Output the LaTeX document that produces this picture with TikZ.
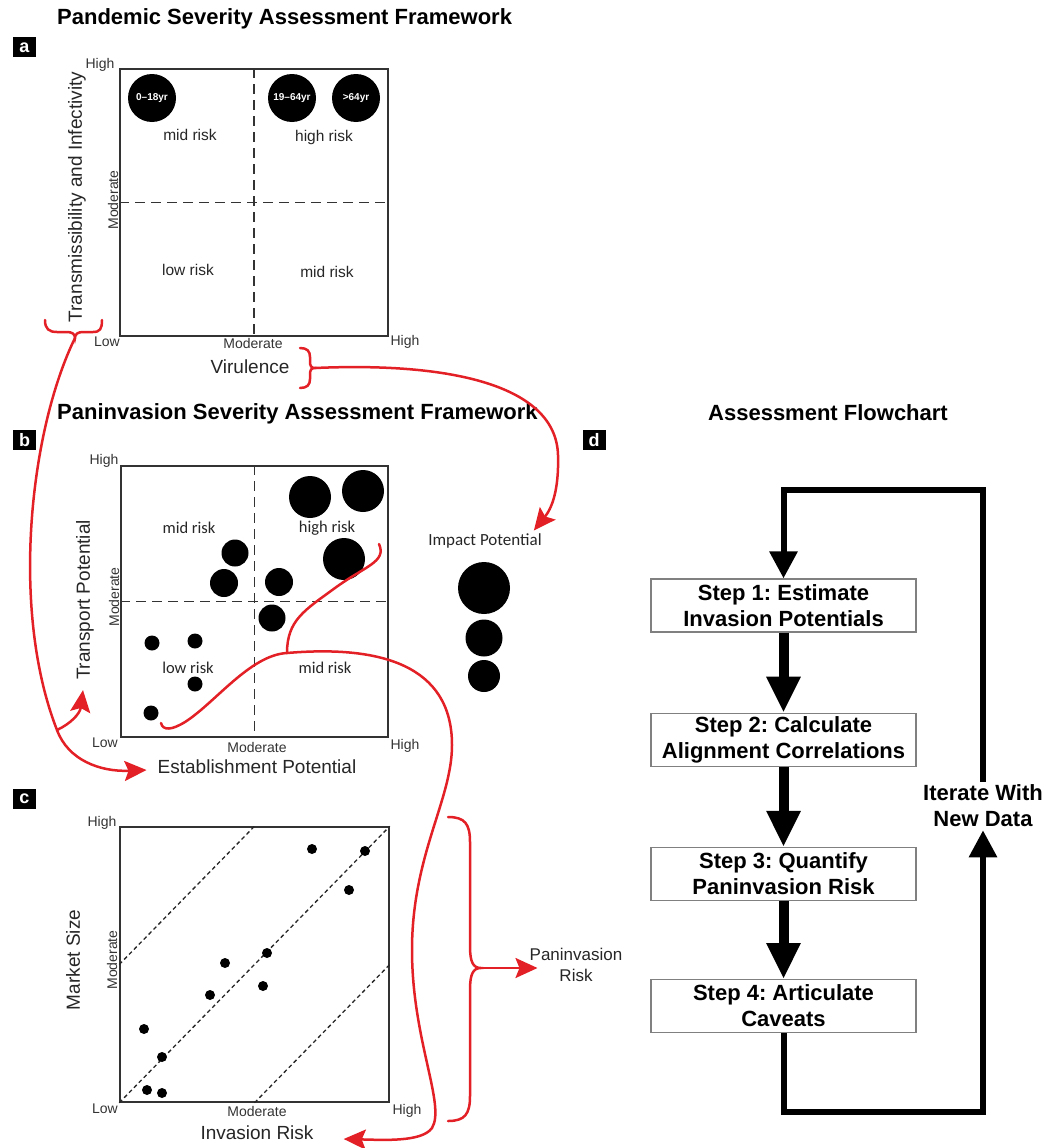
\documentclass[tikz,border=0pt]{standalone}
\usepackage{fontspec}
\setmainfont{Liberation Sans}
\newfontfamily\calfont{Carlito}
\usetikzlibrary{arrows.meta,positioning}
\definecolor{penred}{RGB}{226,32,38}
\frenchspacing
\tikzset{
  ttl/.style={font=\bfseries\fontsize{22}{26}\selectfont, anchor=west, inner sep=0pt},
  panellbl/.style={fill=black, text=white, font=\bfseries\fontsize{18}{18}\selectfont, minimum width=23pt, minimum height=20pt, inner sep=0pt},
  tick/.style={font=\fontsize{14}{14}\selectfont, text=black!80, inner sep=0pt},
  axlbl/.style={font=\fontsize{19}{19}\selectfont, text=black!85, inner sep=0pt},
  risk/.style={font=\fontsize{15.5}{15.5}\selectfont, text=black!85},
  riskb/.style={font=\calfont\fontsize{16.5}{16.5}\selectfont, text=black!85},
  plotbox/.style={draw=black!80, line width=1.5pt, inner sep=0pt},
  quad/.style={draw=black!80, line width=1.6pt, dash pattern=on 10pt off 6pt},
  diag/.style={draw=black!85, line width=1.3pt, dash pattern=on 4pt off 3pt},
  blob/.style={circle, fill=black, inner sep=0pt},
  agelbl/.style={blob, text=white, font=\bfseries\fontsize{10}{10}\selectfont, minimum size=48pt},
  redline/.style={draw=penred, line width=2.5pt, line cap=round},
  redarrow/.style={redline, -{Stealth[length=22pt,width=20pt,inset=4pt]}},
  stepbox/.style={draw=black!50, line width=1.2pt, minimum width=265pt, minimum height=53pt, align=center, inner sep=0pt, font=\bfseries\fontsize{22}{26}\selectfont},
  flowarrow/.style={line width=10pt, -{Triangle[length=36pt,width=32pt]}},
  looparrow/.style={line width=6pt, -{Triangle[length=27pt,width=27pt]}}
}
\begin{document}
\begin{tikzpicture}[x=1pt,y=-1pt]
\useasboundingbox (0,0) rectangle (1045,1148);

\node[ttl] (ttla) at (57,19) {Pandemic Severity Assessment Framework};
\node[panellbl] (lbla) at (24.5,47.5) {a};
\node[plotbox, minimum width=268pt, minimum height=267pt] (boxa) at (254,202.5) {};
\draw[quad] (boxa.north) -- (boxa.south);
\draw[quad] (boxa.west) -- (boxa.east);
\node[agelbl] (agea) at (152,98) {0--18yr};
\node[agelbl] (ageb) at (292,98) {19--64yr};
\node[agelbl] (agec) at (356,98) {>64yr};
\node[risk] (riska1) at (190,135) {mid risk};
\node[risk] (riska2) at (324,137) {high risk};
\node[risk] (riska3) at (188,270) {low risk};
\node[risk] (riska4) at (327,272) {mid risk};
\node[tick] (hia) at (100,65) {High};
\node[tick] (loa) at (107,342) {Low};
\node[tick] (moda) at (253,343) {Moderate};
\node[tick] (hixa) at (405,342) {High};
\node[tick, rotate=90] (modya) at (113,200) {Moderate};
\node[axlbl, rotate=90] (transm) at (77,197) {Transmissibility and Infectivity};
\node[axlbl] (virul) at (250,367) {Virulence};

\node[ttl] (ttlb) at (57,414) {Paninvasion Severity Assessment Framework};
\node[panellbl] (lblb) at (24.5,440) {b};
\node[plotbox, minimum width=267pt, minimum height=271pt] (boxb) at (254.5,601.5) {};
\draw[quad] (boxb.north) -- (boxb.south);
\draw[quad] (boxb.west) -- (boxb.east);
\node[riskb] (riskb1) at (189,528) {mid risk};
\node[riskb] (riskb2) at (327,528) {high risk};
\node[riskb] (riskb3) at (188,668) {low risk};
\node[riskb] (riskb4) at (325,668) {mid risk};
\node[blob, minimum size=42pt] (spa) at (310,497) {};
\node[blob, minimum size=42pt] (spb) at (363,491) {};
\node[blob, minimum size=42pt] (spc) at (344,559) {};
\node[blob, minimum size=27pt] (spd) at (235,553) {};
\node[blob, minimum size=28pt] (spe) at (224,583) {};
\node[blob, minimum size=28pt] (spf) at (279,582) {};
\node[blob, minimum size=27pt] (spg) at (272,618) {};
\node[blob, minimum size=15pt] (sph) at (152,643) {};
\node[blob, minimum size=15pt] (spi) at (195,641) {};
\node[blob, minimum size=15pt] (spj) at (195,684) {};
\node[blob, minimum size=15pt] (spk) at (151,713) {};
\node[tick] (hib) at (104,461) {High};
\node[tick] (lob) at (105,743) {Low};
\node[tick] (modb) at (257,747) {Moderate};
\node[tick] (hixb) at (405,746) {High};
\node[tick, rotate=90] (modyb) at (114,597) {Moderate};
\node[axlbl, rotate=90] (transp) at (85,600) {Transport Potential};
\node[axlbl] (estab) at (257,767) {Establishment Potential};
\node[font=\calfont\fontsize{17}{17}\selectfont, text=black!85, inner sep=0pt] (impact) at (485,541) {Impact Potential};
\node[blob, minimum size=52pt] (impa) at (484,588) {};
\node[blob, minimum size=37pt] (impb) at (484,638) {};
\node[blob, minimum size=32pt] (impc) at (484,676) {};

\node[panellbl] (lblc) at (24.5,799) {c};
\node[plotbox, minimum width=269pt, minimum height=275pt] (boxc) at (254.5,964.5) {};
\draw[diag] (boxc.south west) -- (boxc.north east);
\draw[diag] (boxc.west) -- (boxc.north);
\draw[diag] (boxc.south) -- (boxc.east);
\node[blob, minimum size=10pt] (ca) at (312,849) {};
\node[blob, minimum size=10pt] (cb) at (365,851) {};
\node[blob, minimum size=10pt] (cc) at (349,890) {};
\node[blob, minimum size=10pt] (cd) at (267,953) {};
\node[blob, minimum size=10pt] (ce) at (225,963) {};
\node[blob, minimum size=10pt] (cf) at (263,986) {};
\node[blob, minimum size=10pt] (cg) at (210,995) {};
\node[blob, minimum size=10pt] (ch) at (144,1029) {};
\node[blob, minimum size=10pt] (ci) at (162,1057) {};
\node[blob, minimum size=10pt] (cj) at (147,1090) {};
\node[blob, minimum size=10pt] (ck) at (162,1093) {};
\node[tick] (hic) at (102,823) {High};
\node[tick] (loc) at (105,1109) {Low};
\node[tick] (modc) at (257,1111) {Moderate};
\node[tick] (hixc) at (407,1111) {High};
\node[tick, rotate=90] (modyc) at (112,960) {Moderate};
\node[axlbl, rotate=90] (market) at (73,960) {Market Size};
\node[axlbl] (invrisk) at (257,1133) {Invasion Risk};
\node[font=\fontsize{17}{21}\selectfont, text=black!85, align=center, inner sep=0pt] (panrisk) at (576,965) {Paninvasion\\Risk};

\coordinate (bracea) at (75,338);
\coordinate (bracev) at (315,368);
\coordinate (bracec) at (481,968);
\coordinate (forkb) at (57,730);
\coordinate (forkr) at (287,653);
\coordinate (hookl) at (161,723);
\coordinate (hookr) at (379,544);
\draw[redline] (45,320) .. controls (45,329) and (49,332) .. (57,332) -- (67,332) .. controls (72,332) and (75,334) .. (bracea) .. controls (75,334) and (78,332) .. (83,332) -- (93,332) .. controls (100,332) and (102,329) .. (102,320);
\draw[redline] (300,348) .. controls (307,348) and (310,351) .. (310,357) -- (310,361) .. controls (310,366) and (311,368) .. (bracev) .. controls (311,368) and (310,370) .. (310,375) -- (310,379) .. controls (310,385) and (307,388) .. (300,388);
\draw[redline] (448,817) .. controls (465,817) and (470,824) .. (470,842) -- (470,946) .. controls (470,962) and (473,968) .. (bracec) .. controls (473,968) and (470,974) .. (470,990) -- (470,1096) .. controls (470,1114) and (465,1121) .. (448,1121);
\draw[redarrow] (bracea) .. controls (30,430) and (10,610) .. (forkb) .. controls (68,760) and (100,772) .. ([xshift=-11pt,yshift=-3pt]estab.west);
\draw[redarrow] (forkb) .. controls (70,724) and (80,714) .. ([xshift=-2pt,yshift=-10pt]transp.west);
\draw[redarrow] (bracev) .. controls (450,362) and (556,385) .. (558,455) .. controls (559,490) and (552,508) .. ([xshift=-8pt,yshift=3pt]impact.north east);
\draw[redline] (hookl) .. controls (163,731) and (172,730) .. (185,722) .. controls (215,703) and (250,655) .. (forkr);
\draw[redline] (forkr) .. controls (287,620) and (305,610) .. (335,588) .. controls (365,566) and (387,562) .. (hookr);
\draw[redarrow] (forkr) .. controls (380,645) and (452,665) .. (452,745) .. controls (452,800) and (412,855) .. (412,950) .. controls (412,1040) and (446,1105) .. (432,1128) .. controls (422,1142) and (385,1140) .. ([xshift=30pt,yshift=-6pt]invrisk.east);
\draw[redarrow] (bracec) -- ([xshift=8pt]bracec -| panrisk.west);

\node[ttl, anchor=center] (ttld) at (828,413) {Assessment Flowchart};
\node[panellbl] (lbld) at (594,440) {d};
\node[stepbox] (s1) at (783.5,605.5) {Step 1: Estimate\\Invasion Potentials};
\node[stepbox, below=80pt of s1] (s2) {Step 2: Calculate\\Alignment Correlations};
\node[stepbox, below=80pt of s2] (s3) {Step 3: Quantify\\Paninvasion Risk};
\node[stepbox, below=78pt of s3] (s4) {Step 4: Articulate\\Caveats};
\node[font=\bfseries\fontsize{22}{26}\selectfont, align=center, inner sep=3pt] (iter) at (983,806) {Iterate With\\New Data};
\coordinate (looptop) at (983,490);
\coordinate (loopbot) at (983,1112);
\draw[flowarrow] (s1) -- (s2);
\draw[flowarrow] (s2) -- (s3);
\draw[flowarrow] (s3) -- (s4);
\draw[looparrow] (iter.north) -- (looptop) -| (s1.north);
\draw[looparrow] (s4.south) |- (loopbot) -- (iter.south);
\end{tikzpicture}
\end{document}
